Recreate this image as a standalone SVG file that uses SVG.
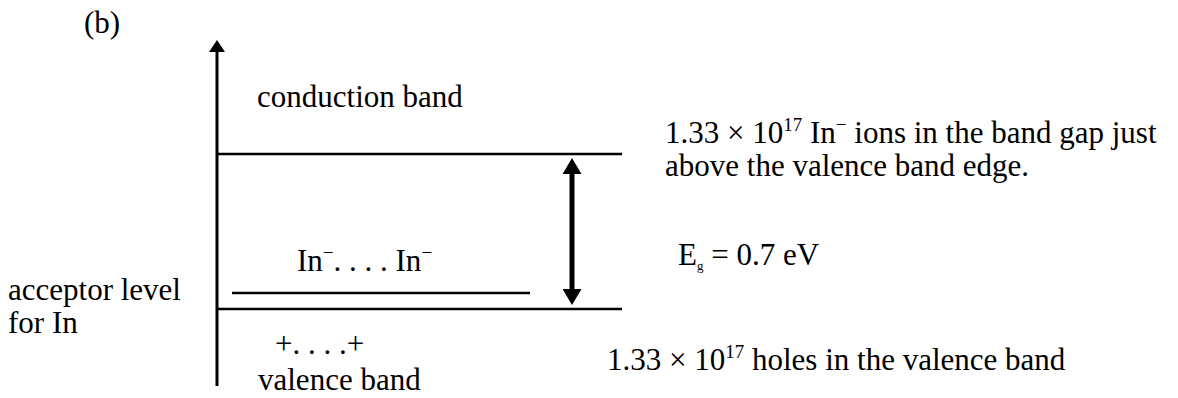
<svg xmlns="http://www.w3.org/2000/svg" width="1178" height="398" viewBox="0 0 1178 398">
<style>
text{font-family:"Liberation Serif","Times New Roman",serif;font-size:31px;fill:#000}
.sup{font-size:19px}
.sub{font-size:13px}
.ln{stroke:#000;stroke-width:2.5;fill:none}
</style>
<defs>
<marker id="axhead" viewBox="0 0 12 16" refX="0" refY="8" markerWidth="12" markerHeight="16" markerUnits="userSpaceOnUse" orient="auto"><path d="M0,0 L12,8 L0,16 Z" fill="#000"/></marker>
<marker id="gaphead" viewBox="0 0 16 19" refX="0" refY="9.5" markerWidth="16" markerHeight="19" markerUnits="userSpaceOnUse" orient="auto-start-reverse"><path d="M0,0 L16,9.5 L0,19 Z" fill="#000"/></marker>
</defs>
<rect width="1178" height="398" fill="#fff"/>
<g id="connectors">
<line id="energy-axis" x1="217" y1="386" x2="217" y2="52" stroke="#000" stroke-width="3" marker-end="url(#axhead)"/>
<line id="gap-arrow" x1="572" y1="289" x2="572" y2="174" stroke="#000" stroke-width="5" marker-start="url(#gaphead)" marker-end="url(#gaphead)"/>
</g>
<g id="conduction-edge"><line class="ln" x1="217" y1="154" x2="622" y2="154"/></g>
<g id="valence-edge"><line class="ln" x1="217" y1="309" x2="622" y2="309"/></g>
<g id="acceptor-line"><line class="ln" x1="232" y1="293" x2="530" y2="293"/></g>
<g id="labels">
<text x="84" y="33">(b)</text>
<text x="257" y="107">conduction band</text>
<text x="665" y="143">1.33 × 10<tspan class="sup" dy="-12">17</tspan><tspan dy="12"> In</tspan><tspan class="sup" dy="-12">−</tspan><tspan dy="12"> ions in the band gap just</tspan></text>
<text x="665" y="176">above the valence band edge.</text>
<text x="297" y="271">In<tspan class="sup" dy="-12">−</tspan><tspan dy="12">. . . . In</tspan><tspan class="sup" dy="-12">−</tspan></text>
<text x="678" y="265">E<tspan class="sub" dy="5">g</tspan><tspan dy="-5"> = 0.7 eV</tspan></text>
<text x="8" y="300">acceptor level</text>
<text x="8" y="333">for In</text>
<text x="275" y="354">+. . . .+</text>
<text x="258" y="390">valence band</text>
<text x="607" y="370">1.33 × 10<tspan class="sup" dy="-12">17</tspan><tspan dy="12"> holes in the valence band</tspan></text>
</g>
</svg>
